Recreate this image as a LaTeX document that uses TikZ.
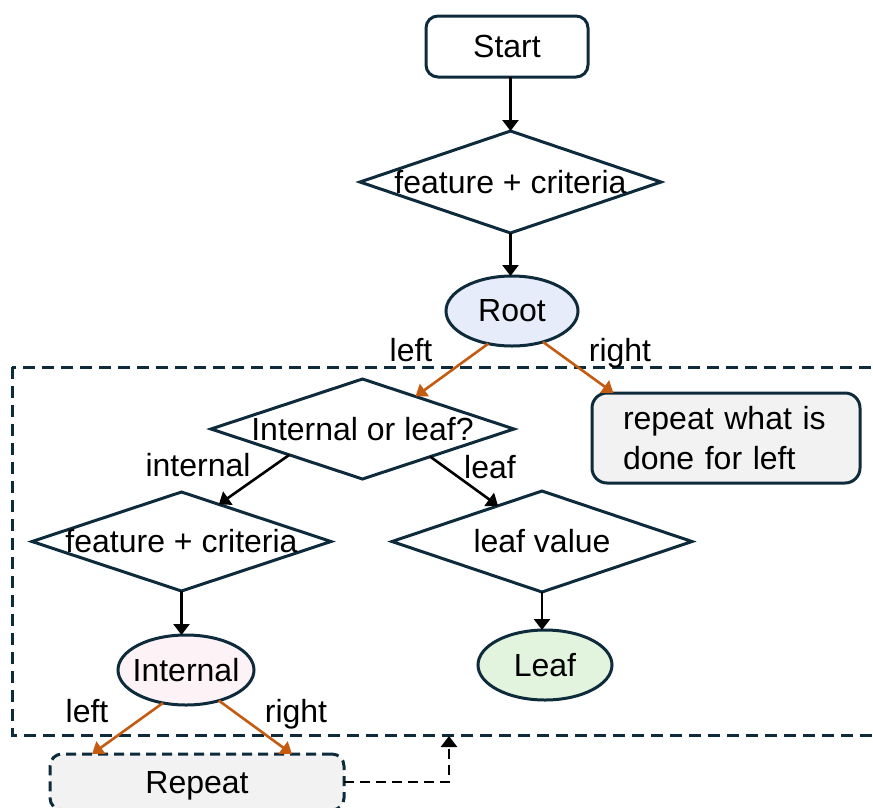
\documentclass[tikz,border=0pt]{standalone}
\usepackage{fontspec}
\setmainfont{Liberation Sans}
\usetikzlibrary{shapes.geometric,arrows.meta,calc}
\definecolor{dk}{HTML}{0E2B3C}
\definecolor{org}{HTML}{C55A11}
\definecolor{rootfill}{HTML}{E6ECFA}
\definecolor{intfill}{HTML}{FDF2F6}
\definecolor{leaffill}{HTML}{E2F4DE}
\definecolor{grayfill}{HTML}{F2F2F2}
\begin{document}
\begin{tikzpicture}[x=1pt,y=-1pt,
  font=\fontsize{32}{40}\selectfont,
  every node/.style={inner sep=0pt, outer sep=0pt},
  box/.style={draw=dk, line width=3pt, rounded corners=12pt, fill=white},
  dia/.style={diamond, draw=dk, line width=3pt, fill=white},
  ell/.style={ellipse, draw=dk, line width=3pt},
  blk/.style={draw=black, line width=2.6pt, -{Triangle[length=11pt,width=16pt]}},
  orarr/.style={draw=org, line width=2.6pt, -{Triangle[length=11pt,width=15pt]}},
  lbl/.style={anchor=base},
  dsh/.style={dash pattern=on 10pt off 6pt}
]
\useasboundingbox (0,0) rectangle (873,807);
% region frame
\draw[dk, line width=3pt, dash pattern=on 12pt off 7pt] (12,367) rectangle (900,735);

\node[box, minimum width=162pt, minimum height=61pt] (start) at (507,46.5) {Start};
\node[dia, minimum width=301pt, minimum height=102pt] (d1) at (510.5,182) {\makebox[0pt]{feature + criteria}};
\node[ell, fill=rootfill, minimum width=132pt, minimum height=70pt] (root) at (512,311) {Root};
\node[box, fill=grayfill, rounded corners=15pt, minimum width=268pt, minimum height=90pt, text width=206pt, align=left] (rwd) at (726,438) {\raisebox{-3pt}{repeat what is}\\\raisebox{-3pt}{done for left}};
\node[dia, minimum width=303pt, minimum height=100pt] (d2) at (362.5,429) {\makebox[0pt]{Internal or leaf?}};
\node[dia, minimum width=299pt, minimum height=99pt] (d3) at (181.5,541.5) {\makebox[0pt]{feature + criteria}};
\node[dia, minimum width=300pt, minimum height=101pt] (d4) at (542,541.5) {\makebox[0pt]{leaf value}};
\node[ell, fill=intfill, minimum width=136pt, minimum height=70pt] (int) at (186,670) {\makebox[0pt]{Internal}};
\node[ell, fill=leaffill, minimum width=134pt, minimum height=70pt] (leaf) at (545,665) {Leaf};
\node[box, dsh, fill=grayfill, minimum width=294pt, minimum height=56pt, text depth=0pt] (rep) at (197,782) {Repeat};

\coordinate (fb) at (449,736);

% connectors
\draw[blk] (start.south -| d1.north) -- (d1.north);
\draw[blk] (d1.south) -- (d1.south |- root.north);
\draw[orarr] (root.234) -- ($(d2.north)!0.35!(d2.east)$);
\draw[orarr] (root.-45) -- ($(rwd.north west)!0.08!(rwd.north east)$);
\draw[blk] ($(d2.west)!0.517!(d2.south)$) -- ($(d3.north)!0.25!(d3.east)$);
\draw[blk] ($(d2.south)!0.447!(d2.east)$) -- ($(d4.west)!0.707!(d4.north)$);
\draw[blk] (d3.south) -- (d3.south |- int.north);
\draw[blk] (d4.south) -- (d4.south |- leaf.north);
\draw[orarr] (int.235) -- ($(rep.north west)!0.143!(rep.north east)$);
\draw[orarr] (int.317) -- ($(rep.north west)!0.823!(rep.north east)$);
\draw[black, line width=2.8pt, dsh, -{Triangle[length=11pt,width=16pt]}] (rep.east) -| (fb);

% labels
\node[lbl] (lL) at (411,361) {left};
\node[lbl] (lR) at (620,361) {right};
\node[lbl] (lI) at (198,476) {internal};
\node[lbl] (lF) at (490,478) {leaf};
\node[lbl] (lL2) at (87,722) {left};
\node[lbl] (lR2) at (296,722) {right};
\end{tikzpicture}
\end{document}
